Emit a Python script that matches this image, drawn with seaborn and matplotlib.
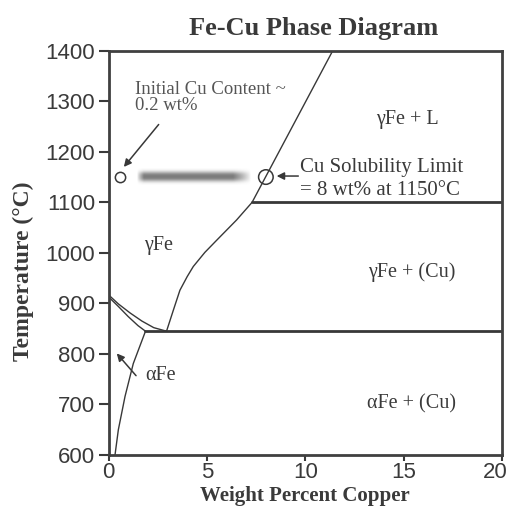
import numpy as np
import matplotlib
matplotlib.use("Agg")
import matplotlib.pyplot as plt
import matplotlib.transforms as mtransforms
import seaborn as sns

# Phase boundaries of the Fe-rich corner (wt% Cu, temperature in degC)
liquidus_cu = [7.3, 11.4]
liquidus_t = [1100, 1400]

gamma_solvus_cu = [2.95, 3.3, 3.63, 4.0, 4.31, 4.9, 5.5, 6.51, 7.3]
gamma_solvus_t = [845, 887, 926, 953, 973, 1001, 1025, 1065, 1100]

a3_upper_cu = [0.0, 0.5, 1.1, 1.7, 2.3, 2.95]
a3_upper_t = [917, 899, 881, 865, 852, 845]

a3_lower_cu = [0.0, 0.5, 1.0, 1.5, 1.88]
a3_lower_t = [913, 894, 874, 856, 845]

alpha_solvus_cu = [0.33, 0.5, 0.84, 1.26, 1.88]
alpha_solvus_t = [600, 650, 716, 781, 845]

eutectoid_cu = [1.88, 20.0]
eutectoid_t = [845, 845]
peritectic_cu = [7.3, 20.0]
peritectic_t = [1100, 1100]

# Marked compositions at 1150 degC
initial_cu = 0.6
solubility_cu = 8.0
hold_t = 1150
# Extent of the diffusion band between the two points
band_cu = [1.45, 7.2]

x_ticks = [0, 5, 10, 15, 20]
y_ticks = [600, 700, 800, 900, 1000, 1100, 1200, 1300, 1400]

sns.set_theme(style="ticks")
plt.rcParams["font.family"] = ["Liberation Sans", "DejaVu Sans"]
serif = ["Liberation Serif", "DejaVu Serif"]

line_c = "#383838"
text_c = "#3a3a3a"

fig = plt.figure(figsize=(5.08, 5.08), dpi=100)
fig.patch.set_facecolor("white")
ax = fig.add_axes([0.2136, 0.1043, 0.7744, 0.7959])
ax.set_facecolor("white")

# Blurred band showing copper spreading along the 1150 degC hold
nx, ny = 400, 60
xs = np.linspace(0, 1, nx)
ys = np.linspace(-1, 1, ny)
span = band_cu[1] - band_cu[0]
ramp_l = np.clip(xs / (0.35 / span), 0, 1)
ramp_r = np.clip((1 - xs) / (0.9 / span), 0, 1)
xprof = np.minimum(ramp_l, ramp_r) ** 0.8
yprof = np.exp(-0.5 * (np.abs(ys) / 0.45) ** 2.6)
alpha = 0.8 * np.outer(yprof, xprof)
rgba = np.zeros((ny, nx, 4))
rgba[..., :3] = 0.36
rgba[..., 3] = alpha
ax.imshow(rgba, extent=[band_cu[0], band_cu[1], hold_t - 16, hold_t + 16],
          aspect="auto", interpolation="bilinear", zorder=1)

thin = dict(color=line_c, lw=1.0, sort=False, estimator=None, ax=ax, legend=False)
thick = dict(color=line_c, lw=2.0, sort=False, estimator=None, ax=ax, legend=False)
sns.lineplot(x=liquidus_cu, y=liquidus_t, **thin)
sns.lineplot(x=gamma_solvus_cu, y=gamma_solvus_t, **thin)
sns.lineplot(x=a3_upper_cu, y=a3_upper_t, **thin)
sns.lineplot(x=a3_lower_cu, y=a3_lower_t, **thin)
sns.lineplot(x=alpha_solvus_cu, y=alpha_solvus_t, **thin)
sns.lineplot(x=eutectoid_cu, y=eutectoid_t, **thick)
sns.lineplot(x=peritectic_cu, y=peritectic_t, **thick)

sns.scatterplot(x=[initial_cu], y=[hold_t], s=55, facecolor="white",
                edgecolor=line_c, linewidth=1.1, ax=ax, zorder=5)
sns.scatterplot(x=[solubility_cu], y=[hold_t], s=110, facecolor="none",
                edgecolor=line_c, linewidth=1.1, ax=ax, zorder=5)

ax.set_xlim(0, 20)
ax.set_ylim(600, 1400)
ax.set_xticks(x_ticks)
ax.set_yticks(y_ticks)
ax.tick_params(axis="both", labelsize=16, colors=text_c, width=1.5)
ax.tick_params(axis="x", length=4, pad=1)
ax.tick_params(axis="y", length=7, pad=2.5)
for s in ax.spines.values():
    s.set_visible(True)
    s.set_linewidth(2.0)
    s.set_color("#404040")

# keep the last x tick label inside the figure
last = ax.get_xticklabels()[-1]
last.set_transform(last.get_transform() +
                   mtransforms.ScaledTranslation(-7 / 100, 0, fig.dpi_scale_trans))

ax.set_xlabel("Weight Percent Copper", family=serif, fontweight="bold",
              fontsize=15, color=text_c, labelpad=2.5)
ax.set_ylabel("Temperature (\u00b0C)", family=serif, fontweight="bold",
              fontsize=17, color=text_c)
ax.yaxis.set_label_coords(-0.19, 0.455)
fig.text(313.5 / 508, 1 - 28 / 508, "Fe-Cu Phase Diagram", family=serif,
         fontweight="bold", fontsize=19, color=text_c, ha="center", va="center")

# Region labels
region = dict(family=serif, fontsize=14.5, color=text_c, ha="center", va="center")
ax.text(15.2, 1264, "\u03b3Fe + L", **region)
ax.text(15.4, 962, "\u03b3Fe + (Cu)", **region)
ax.text(15.4, 702, "\u03b1Fe + (Cu)", **region)
ax.text(2.55, 1015, "\u03b3Fe", **region)
ax.text(1.85, 757, "\u03b1Fe", family=serif, fontsize=14.5, color=text_c,
        ha="left", va="center")

arrow = dict(arrowstyle="-|>", color=line_c, lw=1.1, mutation_scale=11,
             shrinkA=0, shrinkB=0)
ax.annotate("", xy=(0.42, 801), xytext=(1.4, 757), arrowprops=arrow)
ax.annotate("", xy=(0.78, 1170), xytext=(2.55, 1254), arrowprops=arrow)
ax.text(1.35, 1308, "Initial Cu Content ~\n0.2 wt%", family=serif,
        fontsize=13.5, color="#555555", ha="left", va="center", linespacing=0.95)
ax.annotate("", xy=(8.55, 1152), xytext=(9.65, 1152), arrowprops=arrow)
ax.text(9.72, 1146, "Cu Solubility Limit\n= 8 wt% at 1150\u00b0C", family=serif,
        fontsize=15, color=text_c, ha="left", va="center", linespacing=1.3)

fig.savefig("out.png", dpi=100, facecolor="white")
